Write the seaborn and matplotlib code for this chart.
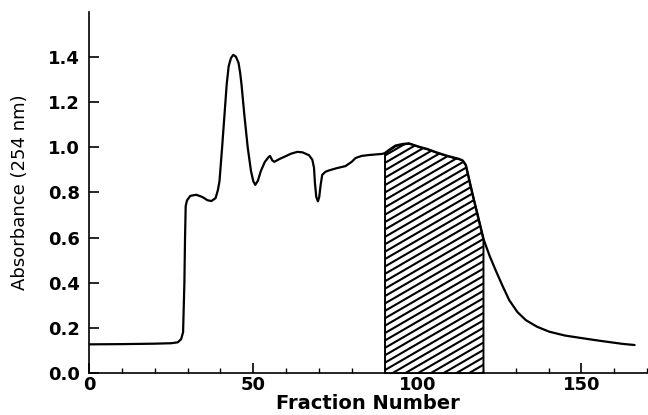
import numpy as np
import pandas as pd
import matplotlib
matplotlib.use("Agg")
import matplotlib.pyplot as plt
from matplotlib.collections import LineCollection
import seaborn as sns

# Data
fraction = [0, 10, 20, 25, 27, 28, 28.6, 29.0, 29.2, 29.4, 29.8, 30.8, 32.6, 34.5,
            36.0, 37.2, 38.5, 39.2, 39.7, 40.5, 41.2, 41.9, 42.5, 43.2, 43.9, 44.7,
            45.5, 46.0, 46.4, 47.3, 48.3, 49.3, 50.0, 50.6, 51.4, 52.3, 53.5, 54.6,
            55.1, 55.8, 56.4, 58.2, 59.9, 61.5, 63.4, 65.0, 67.0, 68.0, 68.5,
            68.8, 69.2, 69.7, 70.1, 70.5, 71.0, 72.0, 73.1, 75.5, 78.1, 80.0,
            81.2, 83.0, 85.2, 89.2, 90.0, 91.5, 93.3, 95.5, 97.4, 100.5, 103.0,
            105.6, 109.0, 112.7, 113.8, 114.7, 115.7, 116.8, 118.5, 120.0, 122.0,
            123.9, 126.0, 128.0, 130.5, 133.1, 136.5, 140.2, 145.0, 150.4, 156.0,
            162.6, 166.2]
absorbance = [0.127, 0.128, 0.130, 0.132, 0.136, 0.150, 0.18, 0.40, 0.60, 0.74, 0.765,
              0.785, 0.790, 0.780, 0.766, 0.762, 0.775, 0.810, 0.850, 1.000, 1.140,
              1.280, 1.360, 1.396, 1.410, 1.402, 1.375, 1.330, 1.280, 1.140, 1.000,
              0.895, 0.850, 0.834, 0.852, 0.895, 0.935, 0.956, 0.962, 0.942, 0.936,
              0.950, 0.961, 0.972, 0.980, 0.978, 0.965, 0.945, 0.910, 0.840, 0.780,
              0.761, 0.780, 0.830, 0.878, 0.892, 0.898, 0.908, 0.917, 0.936, 0.953,
              0.962, 0.966, 0.971, 0.974, 0.990, 1.008, 1.015, 1.018, 1.003, 0.993,
              0.979, 0.963, 0.949, 0.942, 0.923, 0.860, 0.791, 0.690, 0.600, 0.520,
              0.454, 0.385, 0.323, 0.270, 0.234, 0.205, 0.183, 0.166, 0.154, 0.142,
              0.129, 0.124]

hatch_start, hatch_end = 90, 120
x_ticks = [0, 50, 100, 150]
y_ticks = [0.0, 0.2, 0.4, 0.6, 0.8, 1.0, 1.2, 1.4]

df = pd.DataFrame({"Fraction Number": fraction, "Absorbance": absorbance})

sns.set_style("ticks")
plt.rcParams["font.family"] = ["DejaVu Sans"]
plt.rcParams["text.color"] = "black"
plt.rcParams["axes.labelcolor"] = "black"
plt.rcParams["xtick.color"] = "black"
plt.rcParams["ytick.color"] = "black"

fig = plt.figure(figsize=(6.48, 4.15), dpi=100)
ax = fig.add_axes([0.1377, 0.1012, 0.8608, 0.8699])

sns.lineplot(data=df, x="Fraction Number", y="Absorbance", color="black",
             linewidth=1.6, ax=ax, sort=False)

xa = np.array(fraction)
ya = np.array(absorbance)
mask = (xa >= hatch_start) & (xa <= hatch_end)
poly = ax.fill_between(xa[mask], 0, ya[mask], facecolor="white", edgecolor="black",
                       linewidth=1.4, zorder=1)

# shallow diagonal hatching (style pattern) clipped to the shaded region
slope_ax = 0.58 * (0.8608 * 648) / (0.8699 * 415)
offsets = np.arange(-1.0, 1.05, 7.4 / (0.8699 * 415))
segs = [[(0, b), (1, b + slope_ax)] for b in offsets]
lc = LineCollection(segs, colors="black", linewidths=1.5, transform=ax.transAxes,
                    zorder=1.5)
ax.add_collection(lc, autolim=False)
lc.set_clip_path(poly.get_paths()[0], poly.get_transform())

ax.set_xlim(0, 170)
ax.set_ylim(0, 1.6)
ax.set_xticks(x_ticks)
ax.set_xticks(np.arange(0, 171, 10), minor=True)
ax.set_yticks(y_ticks)
ax.set_yticklabels([f"{v:.1f}" for v in y_ticks])

for s in ["top", "right"]:
    ax.spines[s].set_visible(False)
for s in ["left", "bottom"]:
    ax.spines[s].set_linewidth(1.2)
    ax.spines[s].set_color("black")

ax.tick_params(axis="x", which="major", direction="in", length=7, width=1.2,
               labelsize=13, pad=2.5, colors="black")
ax.tick_params(axis="x", which="minor", direction="in", length=3.5, width=1.0,
               colors="black")
ax.tick_params(axis="y", which="major", direction="in", length=7.5, width=1.2,
               labelsize=13, pad=6.5, colors="black")
for lab in ax.get_xticklabels() + ax.get_yticklabels():
    lab.set_fontweight("bold")

ax.set_xlabel("Fraction Number", fontsize=14, fontweight="bold", labelpad=0,
              color="black")
ax.set_ylabel("Absorbance (254 nm)", fontsize=13, labelpad=14, color="black")

fig.savefig("out.png", dpi=100, facecolor="white")
